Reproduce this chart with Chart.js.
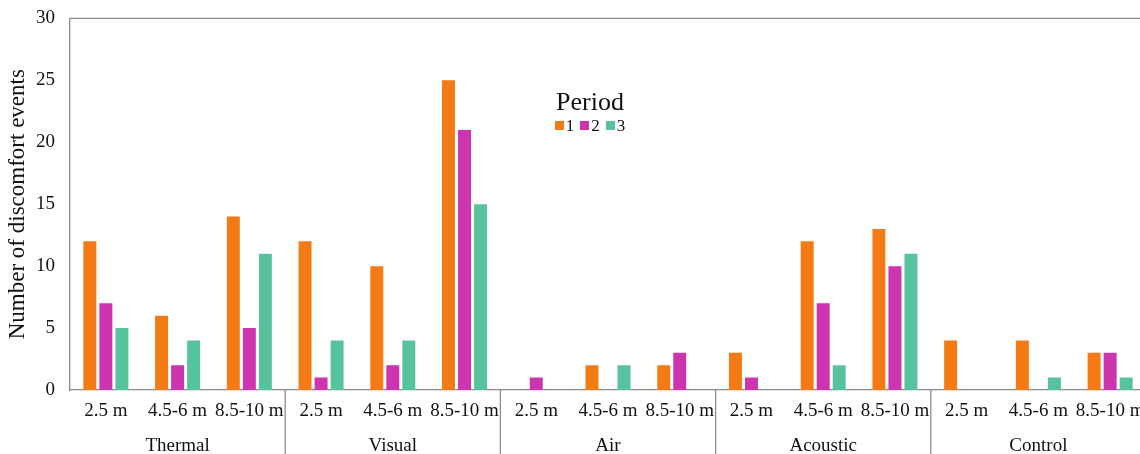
<!DOCTYPE html>
<html>
<head>
<meta charset="utf-8">
<script src="https://cdn.jsdelivr.net/npm/chart.js@4"></script>
<style>
  html, body { margin: 0; padding: 0; background: #fff; overflow: hidden; }
  #wrap { position: relative; width: 1150px; height: 454px; }
  #legend { position: absolute; left: 510px; top: 87px; width: 160px; text-align: center;
            font-family: "Liberation Serif", serif; color: #111; }
  #legend .title { font-size: 26px; line-height: 30px; }
  #legend .items { font-size: 17px; line-height: 17px; margin-left: -6px; }
  #legend .box { display: inline-block; width: 9px; height: 9px; margin: 0 2px 0 6px; vertical-align: 1px; }
</style>
</head>
<body>
<div id="wrap">
  <canvas id="chart" width="1150" height="454"></canvas>
  <div id="legend"></div>
</div>
<script>
const distances = ['2.5 m', '4.5-6 m', '8.5-10 m'];
const factors = ['Thermal', 'Visual', 'Air', 'Acoustic', 'Control'];
const periods = ['1', '2', '3'];
const colors = ['#F47A16', '#CC35AE', '#57C39C'];

// values per category: Thermal x3, Visual x3, Air x3, Acoustic x3, Control x3
const period1 = [12, 6, 14, 12, 10, 25, 0, 2, 2, 3, 12, 13, 4, 4, 3];
const period2 = [7, 2, 5, 1, 2, 21, 1, 0, 3, 1, 7, 10, 0, 0, 3];
const period3 = [5, 4, 11, 4, 4, 15, 0, 2, 0, 0, 2, 11, 0, 1, 1];

const labels = [];
factors.forEach(() => distances.forEach(d => labels.push(d)));

const font = 'Liberation Serif';
const lineColor = '#8c8c8c';

// top frame line and separators between factor groups
const framePlugin = {
    id: 'frame',
    afterDraw(chart) {
        const ctx = chart.ctx;
        const area = chart.chartArea;
        const x = chart.scales.x;
        ctx.save();
        ctx.strokeStyle = lineColor;
        ctx.lineWidth = 1.3;
        ctx.beginPath();
        ctx.moveTo(area.left, area.top);
        ctx.lineTo(area.right, area.top);
        ctx.stroke();
        for (let g = 1; g <= factors.length; g++) {
            const px = (x.getPixelForValue(g * 3 - 1) + x.getPixelForValue(g * 3)) / 2;
            const xx = g === factors.length ? area.right : px;
            ctx.beginPath();
            ctx.moveTo(xx, area.bottom);
            ctx.lineTo(xx, chart.height);
            ctx.stroke();
        }
        ctx.restore();
    }
};

const ctx = document.getElementById('chart').getContext('2d');
const chart = new Chart(ctx, {
    type: 'bar',
    data: {
        labels: labels,
        datasets: [
            { label: periods[0], data: period1, backgroundColor: colors[0] },
            { label: periods[1], data: period2, backgroundColor: colors[1] },
            { label: periods[2], data: period3, backgroundColor: colors[2] }
        ]
    },
    options: {
        responsive: false,
        animation: false,
        layout: { padding: { top: 6, right: 4, left: 0, bottom: 0 } },
        datasets: {
            bar: { categoryPercentage: 0.67, barPercentage: 0.81, borderWidth: 0 }
        },
        plugins: {
            legend: { display: false },
            tooltip: { enabled: false }
        },
        scales: {
            x: {
                grid: { display: false },
                border: { color: lineColor, width: 1.3 },
                ticks: { color: '#111', font: { family: font, size: 19 }, padding: 2, maxRotation: 0, autoSkip: false },
                afterFit(scale) { scale.height = 38; }
            },
            x2: {
                type: 'category',
                labels: factors,
                position: 'bottom',
                offset: true,
                grid: { display: false, drawTicks: false },
                border: { display: false },
                ticks: { color: '#111', font: { family: font, size: 19 }, padding: 7 },
                afterFit(scale) { scale.height = 26; }
            },
            y: {
                min: 0,
                max: 30,
                grid: { display: false },
                border: { color: lineColor, width: 1.3 },
                ticks: { stepSize: 5, color: '#111', font: { family: font, size: 19 }, padding: 7 },
                title: {
                    display: true,
                    text: 'Number of discomfort events',
                    color: '#111',
                    font: { family: font, size: 23 },
                    padding: { top: 4, bottom: 0 }
                },
                afterFit(scale) { scale.width = 70; }
            }
        }
    },
    plugins: [framePlugin]
});

// html legend
const legend = document.getElementById('legend');
let html = '<div class="title">Period</div><div class="items">';
periods.forEach((p, i) => {
    html += '<span class="box" style="background:' + colors[i] + '"></span>' + p;
});
legend.innerHTML = html + '</div>';
</script>
</body>
</html>
